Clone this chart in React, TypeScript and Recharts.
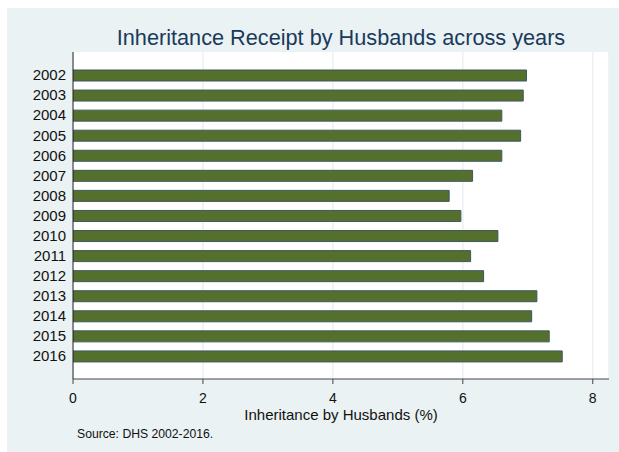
import { BarChart, Bar, XAxis, YAxis, CartesianGrid } from 'recharts';

const years = [
  '2002', '2003', '2004', '2005', '2006', '2007', '2008', '2009',
  '2010', '2011', '2012', '2013', '2014', '2015', '2016',
];
const husbandsPct = [
  6.98, 6.93, 6.6, 6.89, 6.6, 6.15, 5.79, 5.97,
  6.54, 6.12, 6.32, 7.14, 7.06, 7.33, 7.53,
];
const xTicks = [0, 2, 4, 6, 8];

const TITLE = 'Inheritance Receipt by Husbands across years';
const X_LABEL = 'Inheritance by Husbands (%)';
const SOURCE = 'Source: DHS 2002-2016.';

const FONT = '"Liberation Sans", Arial, sans-serif';
const BG = '#EAF2F3';

const data = years.map((year, i) => ({ year, value: husbandsPct[i] }));

export default function App() {
  return (
    <div
      style={{
        position: 'absolute',
        left: 0,
        top: 0,
        width: 619,
        height: 452,
        background: '#fff',
        fontFamily: FONT,
      }}
    >
      <div
        style={{
          position: 'absolute',
          left: 7,
          top: 8,
          width: 612,
          height: 444,
          background: BG,
        }}
      />
      <div style={{ position: 'absolute', left: 0, top: 0 }}>
        <BarChart
          width={619}
          height={452}
          data={data}
          layout="vertical"
          margin={{ top: 52, right: 10, left: 13, bottom: 43 }}
        >
          <CartesianGrid
            horizontal={false}
            stroke={BG}
            strokeWidth={1.5}
            fill="#ffffff"
          />
          <XAxis
            type="number"
            domain={[0, 8.25]}
            ticks={xTicks}
            allowDataOverflow
            height={30}
            tickSize={5}
            tickMargin={9}
            stroke="#444"
            tick={{ fontSize: 14, fill: '#111', fontFamily: FONT }}
          />
          <YAxis
            type="category"
            dataKey="year"
            width={60}
            interval={0}
            tickLine={false}
            tickMargin={1}
            padding={{ top: 13, bottom: 13 }}
            stroke="#222"
            tick={{ fontSize: 15, fill: '#111', fontFamily: FONT }}
          />
          <Bar
            dataKey="value"
            barSize={11}
            fill="#55702C"
            stroke="#3D5960"
            strokeWidth={1}
            isAnimationActive={false}
          />
        </BarChart>
      </div>
      <svg
        width={619}
        height={452}
        style={{ position: 'absolute', left: 0, top: 0, pointerEvents: 'none' }}
      >
        <text
          x={341}
          y={45}
          textAnchor="middle"
          fontSize={21.7}
          fill="#1A3A5C"
          fontFamily={FONT}
        >
          {TITLE}
        </text>
        <text
          x={341}
          y={420}
          textAnchor="middle"
          fontSize={15}
          fill="#111"
          fontFamily={FONT}
        >
          {X_LABEL}
        </text>
        <text x={77} y={438} fontSize={12.2} fill="#111" fontFamily={FONT}>
          {SOURCE}
        </text>
      </svg>
    </div>
  );
}
